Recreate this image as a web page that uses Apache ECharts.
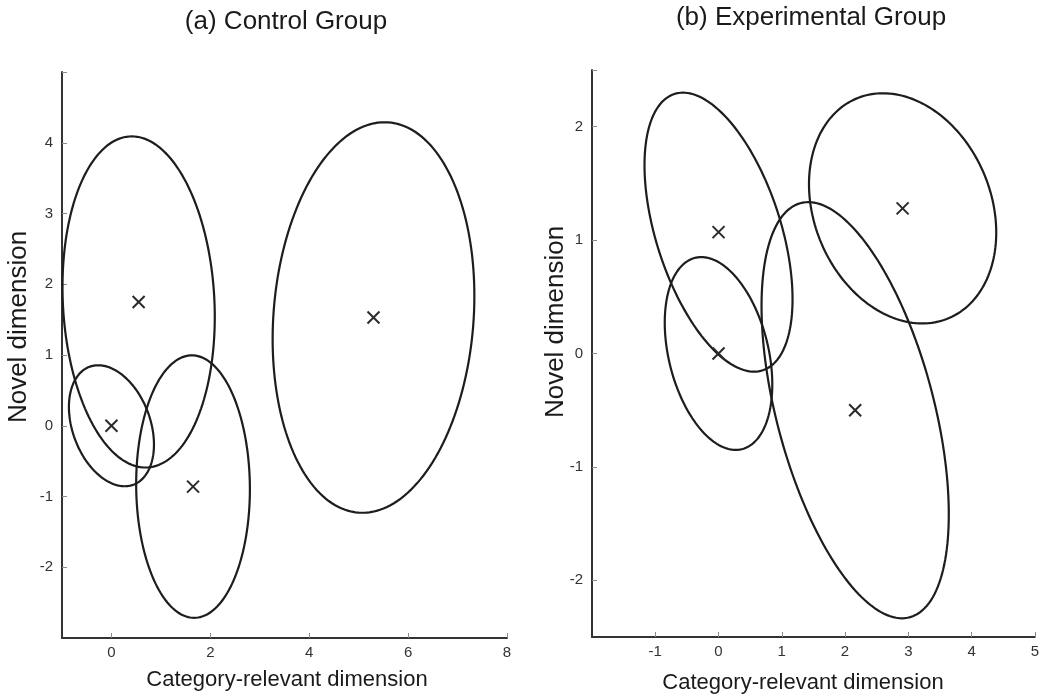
<!DOCTYPE html>
<html>
<head>
<meta charset="utf-8">
<title>Category representations</title>
<script src="https://cdn.jsdelivr.net/npm/echarts@6/dist/echarts.min.js"></script>
<style>
  html, body { margin: 0; padding: 0; background: #ffffff; }
  #chart { width: 1042px; height: 694px; }
</style>
</head>
<body>
<div id="chart"></div>
<script>
// Panel (a): control group — one ellipse per category
// mean (x, y), radius along each dimension, and correlation of the two dimensions
const controlMeanX   = [0.55, 0.00, 1.65, 5.30];
const controlMeanY   = [1.75, 0.00, -0.86, 1.53];
const controlRadiusX = [1.54, 0.86, 1.15, 2.04];
const controlRadiusY = [2.34, 0.855, 1.855, 2.76];
const controlRho     = [-0.09, -0.31, -0.02, 0.11];

// Panel (b): experimental group
const experimentalMeanX   = [0.00, 0.00, 2.16, 2.91];
const experimentalMeanY   = [1.07, 0.00, -0.50, 1.28];
const experimentalRadiusX = [1.17, 0.85, 1.48, 1.48];
const experimentalRadiusY = [1.23, 0.85, 1.835, 1.015];
const experimentalRho     = [-0.48, -0.32, -0.50, -0.21];

// Axis ticks
const controlTicksX      = [0, 2, 4, 6, 8];
const controlTicksY      = [-2, -1, 0, 1, 2, 3, 4];
const experimentalTicksX = [-1, 0, 1, 2, 3, 4, 5];
const experimentalTicksY = [-2, -1, 0, 1, 2];

const panelTitles = ['(a) Control Group', '(b) Experimental Group'];
const xAxisName = 'Category-relevant dimension';
const yAxisName = 'Novel dimension';

function rows(mx, my, rx, ry, rho) {
  return mx.map((v, i) => [v, my[i], rx[i], ry[i], rho[i]]);
}

const INK = '#1d1d1d';

// Each item draws its covariance ellipse outline plus a cross at the mean.
function renderEllipse(params, api) {
  const cx = api.value(0), cy = api.value(1);
  const rx = api.value(2), ry = api.value(3), rho = api.value(4);
  const phi = Math.asin(rho);
  const pts = [];
  const steps = 180;
  for (let k = 0; k < steps; k++) {
    const t = (k / steps) * Math.PI * 2;
    pts.push(api.coord([cx + rx * Math.cos(t - phi), cy + ry * Math.sin(t)]));
  }
  const c = api.coord([cx, cy]);
  const h = 6;
  return {
    type: 'group',
    children: [
      { type: 'polygon', shape: { points: pts },
        style: { fill: 'none', stroke: INK, lineWidth: 2.2 } },
      { type: 'line', shape: { x1: c[0] - h, y1: c[1] - h, x2: c[0] + h, y2: c[1] + h },
        style: { stroke: '#2a2a2a', lineWidth: 2 } },
      { type: 'line', shape: { x1: c[0] - h, y1: c[1] + h, x2: c[0] + h, y2: c[1] - h },
        style: { stroke: '#2a2a2a', lineWidth: 2 } }
    ]
  };
}

function valueAxis(gridIndex, min, max, ticks, isX) {
  return {
    type: 'value',
    gridIndex: gridIndex,
    min: min,
    max: max,
    splitLine: { show: false },
    axisLine: { show: true, onZero: false, lineStyle: { color: '#333333', width: 2 } },
    axisTick: { show: true, inside: true, length: 5, customValues: ticks.concat([max]),
                lineStyle: { color: '#8a8a8a', width: 1 } },
    axisLabel: { customValues: ticks, color: '#333333', fontSize: 15,
                 fontFamily: 'Liberation Sans, Arial, sans-serif', margin: isX ? 7 : 9 }
  };
}

const font = 'Liberation Sans, Arial, sans-serif';
function label(text, x, y, size, rot) {
  return {
    type: 'text', x: x, y: y, rotation: rot || 0,
    style: { text: text, fill: '#1a1a1a', font: size + 'px ' + font,
             align: 'center', verticalAlign: 'middle' }
  };
}

const chart = echarts.init(document.getElementById('chart'), null, { renderer: 'canvas' });
chart.setOption({
  backgroundColor: '#ffffff',
  animation: false,
  grid: [
    { left: 62, top: 72, right: 535, bottom: 56 },
    { left: 592, top: 70, right: 4, bottom: 57 }
  ],
  xAxis: [
    valueAxis(0, -1, 8, controlTicksX, true),
    valueAxis(1, -2, 5, experimentalTicksX, true)
  ],
  yAxis: [
    valueAxis(0, -3, 5, controlTicksY, false),
    valueAxis(1, -2.5, 2.5, experimentalTicksY, false)
  ],
  series: [
    { type: 'custom', xAxisIndex: 0, yAxisIndex: 0, clip: false,
      renderItem: renderEllipse, encode: { x: 0, y: 1 },
      data: rows(controlMeanX, controlMeanY, controlRadiusX, controlRadiusY, controlRho) },
    { type: 'custom', xAxisIndex: 1, yAxisIndex: 1, clip: false,
      renderItem: renderEllipse, encode: { x: 0, y: 1 },
      data: rows(experimentalMeanX, experimentalMeanY, experimentalRadiusX, experimentalRadiusY, experimentalRho) }
  ],
  graphic: [
    label(panelTitles[0], 286, 22, 26),
    label(panelTitles[1], 811, 18, 26),
    label(xAxisName, 287, 680, 22),
    label(xAxisName, 803, 683, 22),
    label(yAxisName, 19, 327, 26, Math.PI / 2),
    label(yAxisName, 556, 322, 26, Math.PI / 2)
  ]
});
</script>
</body>
</html>
